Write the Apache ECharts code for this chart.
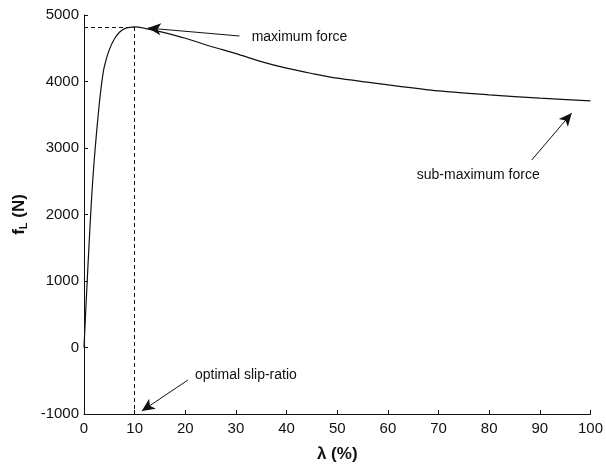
<!DOCTYPE html>
<html>
<head>
    <meta http-equiv="Content-Type" content="text/html; charset=UTF-8">
    <style>
        html, body { margin: 0; padding: 0; background: #fff; }
    </style>
</head>
<body>

    <div id="forceChart" style="width:606px;height:469px"></div>

    <script type="text/javascript" src="https://cdn.jsdelivr.net/npm/echarts@6/dist/echarts.min.js"></script>
    <script type="text/javascript">
        // slip ratio (%) and longitudinal force (N)
        var slipArr = [0, 0.5, 1, 1.5, 2, 2.5, 3, 3.5, 4, 5, 6, 7, 8, 9, 10,
                       12, 15, 20, 25, 30, 35, 40, 45, 50, 60, 70, 80, 90, 100];
        var forceArr = [0, 800, 1550, 2250, 2800, 3250, 3650, 3980, 4220, 4480, 4640, 4740, 4795, 4815, 4820,
                        4800, 4750, 4650, 4530, 4420, 4300, 4200, 4120, 4050, 3950, 3860, 3800, 3750, 3710];
        var xTicks = [0, 10, 20, 30, 40, 50, 60, 70, 80, 90, 100];
        var yTicks = [-1000, 0, 1000, 2000, 3000, 4000, 5000];
        var peakSlip = 10;
        var peakForce = 4820;

        var curveData = [];
        for (var i = 0; i < slipArr.length; i++) {
            curveData.push([slipArr[i], forceArr[i]]);
        }

        var font = '"Liberation Sans", Arial, sans-serif';
        var dashed = {color: '#111', width: 1, type: [4, 3]};
        var solid = {color: '#111', width: 1, type: 'solid'};

        var myChart = echarts.init(document.getElementById('forceChart'));
        var option = {
            animation: false,
            backgroundColor: '#fff',
            grid: {left: 84, right: 14, top: 15, bottom: 55},
            xAxis: {
                type: 'value',
                min: xTicks[0],
                max: xTicks[xTicks.length - 1],
                interval: 10,
                name: 'λ (%)',
                nameLocation: 'middle',
                nameGap: 32,
                nameTextStyle: {fontFamily: font, fontSize: 17, fontWeight: 'bold', color: '#111'},
                axisLine: {onZero: false, lineStyle: {color: '#111', width: 1}},
                axisTick: {inside: true, length: 4, lineStyle: {color: '#111'}},
                axisLabel: {fontFamily: font, fontSize: 15, color: '#111', margin: 7},
                splitLine: {show: false}
            },
            yAxis: {
                type: 'value',
                min: yTicks[0],
                max: yTicks[yTicks.length - 1],
                interval: 1000,
                name: '{b|f}{s|L}{b| (N)}',
                nameLocation: 'middle',
                nameGap: 34,
                nameRotate: 90,
                nameTextStyle: {
                    color: '#111',
                    rich: {
                        b: {fontFamily: font, fontSize: 17, fontWeight: 'bold', color: '#111'},
                        s: {fontFamily: font, fontSize: 11, fontWeight: 'bold', color: '#111', padding: [9, 0, 0, 0]}
                    }
                },
                axisLine: {show: true, onZero: false, lineStyle: {color: '#111', width: 1}},
                axisTick: {show: true, inside: true, length: 4, lineStyle: {color: '#111'}},
                axisLabel: {
                    fontFamily: font, fontSize: 15, color: '#111', margin: 5,
                    formatter: function (v) { return String(v); }
                },
                splitLine: {show: false}
            },
            series: [
                {
                    name: 'fL',
                    type: 'line',
                    data: curveData,
                    showSymbol: false,
                    smooth: 0.3,
                    lineStyle: {color: '#111', width: 1.2},
                    markLine: {
                        silent: true,
                        symbol: ['none', 'arrow'],
                        symbolSize: [9, 13],
                        label: {show: false},
                        lineStyle: solid,
                        data: [
                            [{coord: [0, peakForce], symbol: 'none', lineStyle: dashed},
                             {coord: [peakSlip, peakForce], symbol: 'none'}],
                            [{coord: [peakSlip, peakForce], symbol: 'none', lineStyle: dashed},
                             {coord: [peakSlip, yTicks[0]], symbol: 'none'}],
                            [{coord: [30.7, 4684]}, {coord: [12.6, 4804]}],
                            [{coord: [88.4, 2819]}, {coord: [96.3, 3526]}],
                            [{coord: [20.5, -490]}, {coord: [11.4, -956]}]
                        ]
                    },
                    markPoint: {
                        silent: true,
                        symbolSize: 0,
                        label: {
                            show: true,
                            position: 'right',
                            distance: 0,
                            fontFamily: font,
                            fontSize: 14,
                            color: '#111'
                        },
                        data: [
                            {coord: [33.1, 4670], label: {formatter: 'maximum force'}},
                            {coord: [65.7, 2594], label: {formatter: 'sub-maximum force'}},
                            {coord: [21.9, -414], label: {formatter: 'optimal slip-ratio'}}
                        ]
                    }
                }
            ]
        };
        myChart.setOption(option);
    </script>
</body>
</html>
